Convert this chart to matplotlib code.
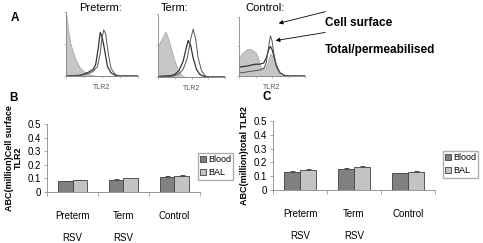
import matplotlib
matplotlib.use('Agg')
import matplotlib.pyplot as plt
import numpy as np

plt.rcParams['font.family'] = ['Liberation Sans', 'DejaVu Sans']

# ---- panel B / C data ----
groups = ['Preterm\n\nRSV', 'Term\n\nRSV', 'Control']
series = ['Blood', 'BAL']
surface_blood = [0.080, 0.088, 0.107]
surface_bal = [0.088, 0.100, 0.120]
surface_blood_err = [0.003, 0.004, 0.007]
surface_bal_err = [0.003, 0.004, 0.004]
total_blood = [0.130, 0.150, 0.120]
total_bal = [0.145, 0.165, 0.130]
total_blood_err = [0.010, 0.010, 0.005]
total_bal_err = [0.010, 0.012, 0.006]

# ---- panel A histograms (x in log decades 0..4, y as fraction of axis) ----
pre_fill_x = [0, 0.1, 0.25, 0.5, 0.75, 1.0, 1.25, 1.5, 1.75, 4]
pre_fill_y = [1.0, 0.75, 0.5, 0.28, 0.14, 0.07, 0.03, 0.01, 0, 0]
pre_perm_x = [0, 0.75, 1.0, 1.25, 1.5, 1.65, 1.8, 1.9, 2.0, 2.15, 2.3, 2.5, 2.75, 3.0, 4]
pre_perm_y = [0, 0.01, 0.03, 0.06, 0.1, 0.18, 0.45, 0.68, 0.62, 0.4, 0.15, 0.05, 0.01, 0, 0]
pre_surf_x = [0, 0.75, 1.0, 1.25, 1.5, 1.75, 1.9, 2.0, 2.1, 2.2, 2.35, 2.5, 2.75, 3.0, 4]
pre_surf_y = [0, 0.01, 0.02, 0.04, 0.07, 0.15, 0.35, 0.6, 0.72, 0.66, 0.35, 0.12, 0.02, 0, 0]

term_fill_x = [0, 0.25, 0.45, 0.6, 0.75, 1.0, 1.25, 1.5, 1.75, 4]
term_fill_y = [0.5, 0.62, 0.72, 0.62, 0.48, 0.25, 0.08, 0.01, 0, 0]
term_perm_x = [0, 0.75, 1.0, 1.25, 1.5, 1.65, 1.8, 1.95, 2.1, 2.3, 2.5, 2.75, 3.0, 4]
term_perm_y = [0.01, 0.02, 0.04, 0.1, 0.25, 0.42, 0.58, 0.5, 0.3, 0.12, 0.04, 0.01, 0, 0]
term_surf_x = [0, 0.75, 1.0, 1.25, 1.5, 1.75, 1.95, 2.1, 2.25, 2.4, 2.6, 2.8, 3.0, 4]
term_surf_y = [0.0, 0.01, 0.02, 0.05, 0.12, 0.3, 0.6, 0.76, 0.6, 0.3, 0.1, 0.02, 0, 0]

ctrl_fill_x = [0, 0.25, 0.5, 0.75, 1.0, 1.15, 1.3, 1.5, 1.7, 1.9, 2.1, 2.3, 2.5, 4]
ctrl_fill_y = [0.32, 0.4, 0.46, 0.45, 0.4, 0.32, 0.15, 0.12, 0.2, 0.38, 0.3, 0.1, 0.01, 0]
ctrl_perm_x = [0, 0.5, 1.0, 1.25, 1.5, 1.65, 1.8, 1.9, 2.0, 2.15, 2.3, 2.5, 2.75, 3.0, 4]
ctrl_perm_y = [0.15, 0.17, 0.2, 0.2, 0.22, 0.3, 0.45, 0.5, 0.45, 0.3, 0.15, 0.05, 0.01, 0, 0]
ctrl_surf_x = [0, 0.5, 1.0, 1.25, 1.5, 1.65, 1.8, 1.9, 2.0, 2.1, 2.25, 2.5, 2.75, 3.0, 4]
ctrl_surf_y = [0.05, 0.07, 0.09, 0.1, 0.13, 0.22, 0.5, 0.68, 0.6, 0.4, 0.18, 0.05, 0.01, 0, 0]

W, H = 483, 243
fig = plt.figure(figsize=(W / 100, H / 100), dpi=100)
fig.patch.set_facecolor('white')


def px_axes(x0, y0, x1, y1):
    # pixel box (left, top, right, bottom) -> figure axes
    return fig.add_axes([x0 / W, 1 - y1 / H, (x1 - x0) / W, (y1 - y0) / H])


def hist_panel(box, title, fill, perm, surf, title_x):
    ax = px_axes(*box)
    ax.fill_between(fill[0], fill[1], color='#c6c6c6', edgecolor='#a0a0a0', lw=0.5)
    ax.plot(perm[0], perm[1], color='#333333', lw=0.9)
    ax.plot(surf[0], surf[1], color='#555555', lw=0.7)
    ax.set_xlim(0, 4)
    ax.set_ylim(0, 1)
    for s in ['top', 'right']:
        ax.spines[s].set_visible(False)
    for s in ['left', 'bottom']:
        ax.spines[s].set_color('#888888')
        ax.spines[s].set_linewidth(0.6)
    ax.set_xticks([0, 1, 2, 3, 4])
    ax.set_xticklabels([])
    ax.set_yticks([0, 0.5, 1])
    ax.set_yticklabels([])
    ax.tick_params(length=1.5, width=0.4, color='#888888')
    ax.set_xlabel('TLR2', fontsize=5, color='#555555', labelpad=1)
    fig.text(title_x / W, 1 - 8 / H, title, fontsize=8, ha='center', va='center')
    return ax


hist_panel((66, 12, 138, 76), 'Preterm:', (pre_fill_x, pre_fill_y),
           (pre_perm_x, pre_perm_y), (pre_surf_x, pre_surf_y), 100)
hist_panel((158, 14, 225, 77), 'Term:', (term_fill_x, term_fill_y),
           (term_perm_x, term_perm_y), (term_surf_x, term_surf_y), 175)
hist_panel((239, 17, 305, 76), 'Control:', (ctrl_fill_x, ctrl_fill_y),
           (ctrl_perm_x, ctrl_perm_y), (ctrl_surf_x, ctrl_surf_y), 265)

fig.text(15 / W, 1 - 18 / H, 'A', fontsize=8.5, fontweight='bold', ha='center', va='center')
fig.text(325 / W, 1 - 23 / H, 'Cell surface', fontsize=8.5, fontweight='bold', va='center')
fig.text(325 / W, 1 - 50 / H, 'Total/permeabilised', fontsize=8.5, fontweight='bold', va='center')
fig.add_artist(matplotlib.patches.FancyArrowPatch(
    (328 / W, 1 - 11 / H), (276 / W, 1 - 24 / H), transform=fig.transFigure,
    arrowstyle='-|>', mutation_scale=6, lw=0.6, color='black'))
fig.add_artist(matplotlib.patches.FancyArrowPatch(
    (328 / W, 1 - 32 / H), (273 / W, 1 - 41 / H), transform=fig.transFigure,
    arrowstyle='-|>', mutation_scale=6, lw=0.6, color='black'))


def bar_panel(box, blood, bal, blood_err, bal_err, ylabel, letter, letter_xy, leg_xy, width):
    ax = px_axes(*box)
    x = np.arange(len(groups))
    ax.errorbar(x - width / 2, blood, yerr=blood_err, fmt='none', ecolor='#333333',
                elinewidth=0.6, capsize=1.8, capthick=0.6, zorder=1)
    ax.errorbar(x + width / 2, bal, yerr=bal_err, fmt='none', ecolor='#333333',
                elinewidth=0.6, capsize=1.8, capthick=0.6, zorder=1)
    b1 = ax.bar(x - width / 2, blood, width, color='#808080', edgecolor='#404040',
                lw=0.6, label=series[0], zorder=2)
    b2 = ax.bar(x + width / 2, bal, width, color='#c3c3c3', edgecolor='#404040',
                lw=0.6, label=series[1], zorder=2)
    ax.set_xlim(-0.5, 2.5)
    ax.set_ylim(0, 0.5)
    ax.set_yticks([0, 0.1, 0.2, 0.3, 0.4, 0.5])
    ax.set_yticklabels(['0', '0.1', '0.2', '0.3', '0.4', '0.5'])
    ax.set_xticks(x)
    ax.set_xticklabels(groups, fontsize=7, linespacing=1.1)
    ax.set_xticks([-0.5, 0.5, 1.5, 2.5], minor=True)
    ax.tick_params(axis='x', which='major', length=0, pad=14)
    ax.tick_params(axis='x', which='minor', length=3, width=0.5, color='#888888')
    ax.tick_params(axis='y', length=2, width=0.5, color='#888888', labelsize=7, pad=2)
    for s in ['top', 'right']:
        ax.spines[s].set_visible(False)
    for s in ['left', 'bottom']:
        ax.spines[s].set_color('#888888')
        ax.spines[s].set_linewidth(0.6)
    ax.set_ylabel(ylabel, fontsize=6.5, fontweight='bold', labelpad=4, linespacing=1.0)
    fig.text(letter_xy[0] / W, 1 - letter_xy[1] / H, letter, fontsize=8.5,
             fontweight='bold', ha='center', va='center')
    ax.legend(handles=[b1, b2], loc='upper left', bbox_to_anchor=(leg_xy[0] / W, 1 - leg_xy[1] / H),
              bbox_transform=fig.transFigure, fontsize=6.5, frameon=True, fancybox=False,
              edgecolor='#999999', handlelength=0.6, handleheight=0.6, handletextpad=0.25,
              labelspacing=0.45, borderpad=0.25, borderaxespad=0)
    return ax


bar_panel((47, 124, 200, 192), surface_blood, surface_bal, surface_blood_err, surface_bal_err,
          'ABC(million)Cell surface\nTLR2', 'B', (13, 98), (198, 153), 0.28)
bar_panel((273, 121, 435, 190), total_blood, total_bal, total_blood_err, total_bal_err,
          'ABC(million)total TLR2', 'C', (267, 97), (443, 151), 0.30)

fig.savefig('out.png', dpi=100, facecolor='white')
